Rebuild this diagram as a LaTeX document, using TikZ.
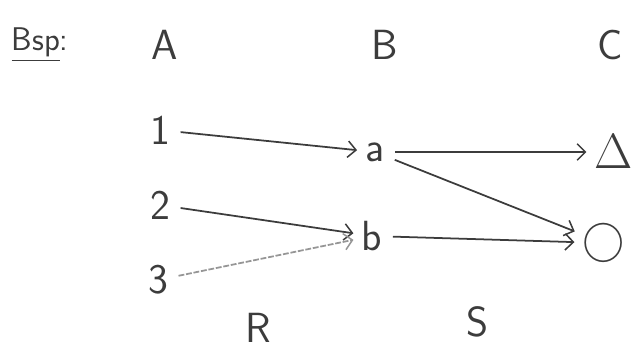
\documentclass[tikz,border=0pt]{standalone}
\usepackage{xcolor}
\usepackage{tikz}
\usepackage{amsmath}
\usetikzlibrary{arrows.meta,positioning}
\definecolor{ink}{RGB}{60,60,60}
\definecolor{pencil}{RGB}{150,150,150}

\tikzset{
  sym/.style={font=\fontsize{36}{42}\selectfont\sffamily, text=ink, inner sep=3pt},
  maparrow/.style={-{Straight Barb[length=7pt,width=14pt,line width=1.3pt]}, draw=ink, line width=1.5pt, shorten <=6pt, shorten >=4pt},
  faintarrow/.style={maparrow, draw=pencil, dash pattern=on 5pt off 1.5pt}
}

\begin{document}
\begin{tikzpicture}[x=0.03cm, y=-0.03cm]
  \useasboundingbox (0,0) rectangle (637,359);

  \node[sym, anchor=west, font=\fontsize{28}{32}\selectfont\sffamily] (bsp) at (8,45) {\underline{Bsp}:};
  \node[sym] (setA) at (165,45) {A};
  \node[sym] (setB) at (385,45) {B};
  \node[sym] (setC) at (610,45) {C};

  \node[sym] (n1) at (160,130) {1};
  \node[sym] (n2) at (160,205) {2};
  \node[sym] (n3) at (158,280) {3};

  \node[sym] (va) at (375,152) {a};
  \node[sym] (vb) at (372,236) {b};

  \node[sym] (tri) at (614,152) {\scalebox{1.7}{$\Delta$}};
  \node[sym] (circ) at (604,243) {\scalebox{1.45}{$\bigcirc$}};

  \node[sym] (relR) at (258,328) {R};
  \node[sym] (relS) at (478,322) {S};

  \draw[maparrow] (n1) -- (va);
  \draw[maparrow] (n2) -- (vb);
  \draw[faintarrow] (n3) -- (vb);
  \draw[maparrow] (va) -- (tri);
  \draw[maparrow] (va) -- (circ);
  \draw[maparrow] (vb) -- (circ);
\end{tikzpicture}
\end{document}
